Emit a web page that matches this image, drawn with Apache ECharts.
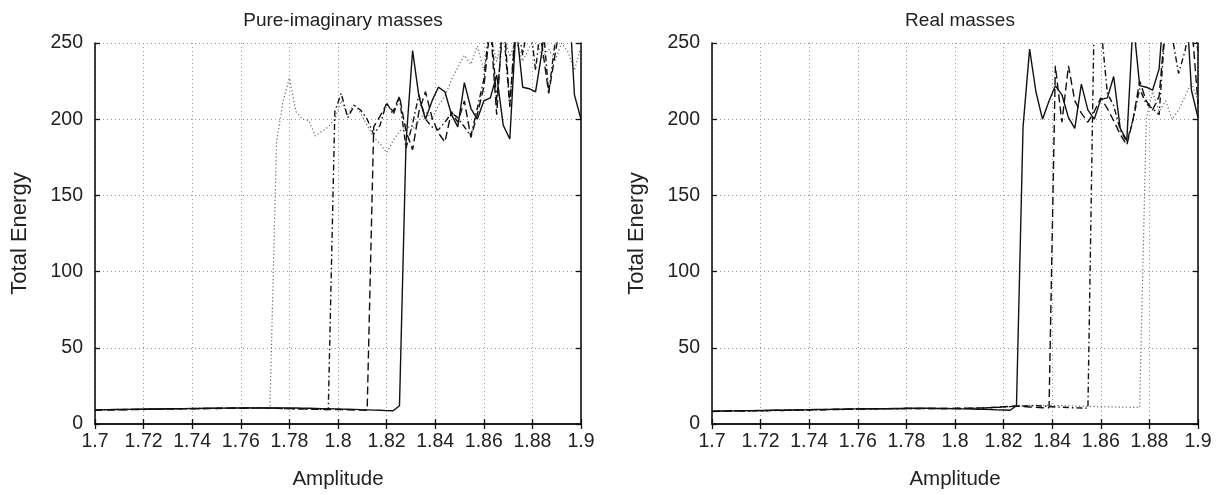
<!DOCTYPE html>
<html>
<head>
<meta charset="utf-8">
<script src="https://cdn.jsdelivr.net/npm/echarts@6/dist/echarts.min.js"></script>
<style>
html,body{margin:0;padding:0;background:#fff;}
#c{width:1232px;height:495px;}
</style>
</head>
<body>
<div id="c"></div>
<script>
// Amplitude samples (76 points, 1.70 .. 1.90)
var amplitude = [1.7000,1.7027,1.7053,1.7080,1.7107,1.7133,1.7160,1.7187,1.7213,1.7240,
1.7267,1.7293,1.7320,1.7347,1.7373,1.7400,1.7427,1.7453,1.7480,1.7507,
1.7533,1.7560,1.7587,1.7613,1.7640,1.7667,1.7693,1.7720,1.7747,1.7773,
1.7800,1.7827,1.7853,1.7880,1.7907,1.7933,1.7960,1.7987,1.8013,1.8040,
1.8067,1.8093,1.8120,1.8147,1.8173,1.8200,1.8227,1.8253,1.8280,1.8307,
1.8333,1.8360,1.8387,1.8413,1.8440,1.8467,1.8493,1.8520,1.8547,1.8573,
1.8600,1.8627,1.8653,1.8680,1.8707,1.8733,1.8760,1.8787,1.8813,1.8840,
1.8867,1.8893,1.8920,1.8947,1.8973,1.9000];

// Pure-imaginary masses
var imagSolid = [9.3,9.4,9.4,9.5,9.5,9.6,9.7,9.7,9.8,9.8,
9.9,10.0,10.0,10.1,10.1,10.2,10.2,10.3,10.3,10.4,
10.4,10.5,10.5,10.5,10.6,10.6,10.6,10.6,10.6,10.6,
10.5,10.5,10.4,10.3,10.2,10.1,10.0,9.9,9.8,9.7,
9.6,9.4,9.3,9.1,9.0,8.8,8.7,12,185,245,
215,200,212,221,218,203,195,224,207,200,
212,214,229,196,187,262,221,220,218,245,
290,290,290,290,216,200];
var imagDashDot = [9.2,9.3,9.3,9.4,9.5,9.5,9.6,9.6,9.7,9.8,
9.8,9.9,9.9,10.0,10.1,10.1,10.2,10.2,10.3,10.3,
10.4,10.4,10.4,10.5,10.5,10.5,10.4,10.4,10.3,10.2,
10.1,10.0,9.9,9.8,9.7,9.6,9.5,205,217,201,
209,206,200,190,196,211,203,214,181,197,
216,200,195,193,198,204,201,195,189,207,
226,268,212,262,208,270,242,268,232,270,
217,250,270,255,268,258];
var imagDashed = [9.1,9.2,9.2,9.3,9.3,9.4,9.5,9.5,9.6,9.7,
9.7,9.8,9.8,9.9,10.0,10.0,10.1,10.1,10.2,10.2,
10.3,10.3,10.3,10.4,10.4,10.4,10.4,10.3,10.3,10.2,
10.1,10.0,9.9,9.8,9.7,9.6,9.5,9.4,9.4,9.3,
9.2,9.1,9.0,195,202,210,205,215,192,180,
205,218,201,191,185,205,198,212,188,203,
221,262,203,272,209,265,270,262,265,248,
217,242,268,260,272,262];
var imagDotted = [9.4,9.4,9.5,9.5,9.6,9.6,9.7,9.8,9.8,9.9,
9.9,10.0,10.1,10.1,10.2,10.2,10.3,10.3,10.4,10.4,
10.5,10.5,10.6,10.6,10.6,10.7,10.7,10.8,185,211,
227,205,200,199,189,192,195,200,212,203,
210,204,196,188,184,178,186,192,196,193,
199,205,200,209,215,226,234,242,236,248,
232,255,238,257,241,252,238,247,253,240,
246,238,250,244,232,248];

// Real masses
var realSolid = [8.4,8.5,8.5,8.6,8.7,8.7,8.8,8.9,8.9,9.0,
9.1,9.1,9.2,9.3,9.3,9.4,9.5,9.5,9.6,9.7,
9.7,9.8,9.9,9.9,10.0,10.0,10.1,10.1,10.2,10.2,
10.3,10.3,10.3,10.3,10.3,10.2,10.2,10.1,10.0,9.9,
9.8,9.7,9.6,9.5,9.3,9.2,9.0,12,195,246,
218,200,212,222,216,201,194,223,206,200,
213,214,228,194,186,265,222,221,219,233,
290,290,290,290,219,201];
var realDashed = [8.3,8.4,8.4,8.5,8.6,8.6,8.7,8.8,8.8,8.9,
9.0,9.0,9.1,9.2,9.2,9.3,9.4,9.4,9.5,9.6,
9.6,9.7,9.8,9.8,9.9,9.9,10.0,10.0,10.1,10.1,
10.2,10.2,10.2,10.2,10.2,10.2,10.2,10.2,10.3,10.3,
10.4,10.5,10.6,10.8,11.0,11.3,11.6,11.8,11.5,11.2,
10.9,10.7,10.6,235,198,235,212,204,198,205,
214,207,199,190,183,200,225,212,206,215,
265,252,270,258,265,210];
var realDashDot = [8.2,8.3,8.3,8.4,8.5,8.5,8.6,8.7,8.7,8.8,
8.9,8.9,9.0,9.1,9.1,9.2,9.3,9.3,9.4,9.5,
9.5,9.6,9.7,9.7,9.8,9.8,9.9,9.9,10.0,10.0,
10.1,10.1,10.1,10.1,10.1,10.1,10.1,10.1,10.2,10.2,
10.3,10.4,10.5,10.7,10.9,11.1,11.4,11.6,11.8,11.9,
12.0,11.8,11.5,11.2,11.0,10.8,10.6,10.5,10.4,272,
262,217,209,193,185,200,220,210,207,203,
265,255,230,245,268,245];
var realDotted = [8.3,8.4,8.4,8.5,8.6,8.6,8.7,8.8,8.8,8.9,
9.0,9.0,9.1,9.2,9.2,9.3,9.4,9.4,9.5,9.6,
9.6,9.7,9.8,9.8,9.9,9.9,10.0,10.0,10.1,10.1,
10.2,10.2,10.2,10.2,10.2,10.2,10.2,10.2,10.3,10.3,
10.4,10.5,10.6,10.8,11.0,11.2,11.5,11.8,12.0,12.2,
12.3,12.3,12.2,12.1,12.0,11.9,11.8,11.7,11.6,11.5,
11.4,11.3,11.2,11.1,11.0,10.9,10.8,200,218,205,
212,200,206,215,224,212];

var panelTitles = ['Pure-imaginary masses', 'Real masses'];
var xName = 'Amplitude';
var yName = 'Total Energy';

var FONT = 'Liberation Sans, Arial, sans-serif';
var chart = echarts.init(document.getElementById('c'), null, {renderer: 'canvas'});

function pairs(arr) { return amplitude.map(function (x, i) { return [x, arr[i]]; }); }

var grids = [
  {left: 95, top: 43, width: 486, height: 382},
  {left: 712, top: 43, width: 486, height: 382}
];
var axisLineStyle = {color: '#111', width: 1.6};
var xAxes = [], yAxes = [];
for (var g = 0; g < 2; g++) {
  xAxes.push({
    type: 'value', gridIndex: g, min: 1.7, max: 1.9, interval: 0.02,
    name: xName, nameLocation: 'middle', nameGap: 45,
    nameTextStyle: {fontFamily: FONT, fontSize: 20.5, color: '#222'},
    axisLine: {show: true, lineStyle: axisLineStyle},
    axisTick: {show: true, inside: true, length: 5, lineStyle: {color: '#111', width: 1.3}},
    axisLabel: {fontFamily: FONT, fontSize: 19.5, color: '#222', margin: 8, showMinLabel: true, showMaxLabel: true,
      formatter: function (v) { return String(parseFloat(v.toFixed(2))); }},
    splitLine: {show: true, lineStyle: {color: '#999', width: 1, type: [1, 3]}}
  });
  xAxes.push({
    type: 'value', gridIndex: g, position: 'top', min: 1.7, max: 1.9, interval: 0.02,
    axisLine: {show: true, lineStyle: axisLineStyle},
    axisTick: {show: true, inside: true, length: 5, lineStyle: {color: '#111', width: 1.3}},
    axisLabel: {show: false}, splitLine: {show: false}
  });
  yAxes.push({
    type: 'value', gridIndex: g, min: 0, max: 250, interval: 50,
    name: yName, nameLocation: 'middle', nameGap: 64, nameRotate: 90,
    nameTextStyle: {fontFamily: FONT, fontSize: 22, color: '#222'},
    axisLine: {show: true, lineStyle: axisLineStyle},
    axisTick: {show: true, inside: true, length: 5, lineStyle: {color: '#111', width: 1.3}},
    axisLabel: {fontFamily: FONT, fontSize: 19.5, color: '#222', margin: 12},
    splitLine: {show: true, lineStyle: {color: '#999', width: 1, type: [1, 3]}}
  });
  yAxes.push({
    type: 'value', gridIndex: g, position: 'right', min: 0, max: 250, interval: 50,
    axisLine: {show: true, lineStyle: axisLineStyle},
    axisTick: {show: true, inside: true, length: 5, lineStyle: {color: '#111', width: 1.3}},
    axisLabel: {show: false}, splitLine: {show: false}
  });
}

function mk(arr, g, dash, color, width) {
  return {
    type: 'line', xAxisIndex: g * 2, yAxisIndex: g * 2, data: pairs(arr),
    symbol: 'none', showSymbol: false, clip: true, animation: false, silent: true,
    lineStyle: {color: color, width: width, type: dash}
  };
}

var series = [
  mk(imagDotted, 0, [1.2, 2.4], '#666', 1.2),
  mk(imagDashDot, 0, [6, 3, 1.5, 3], '#111', 1.4),
  mk(imagDashed, 0, [8, 4], '#111', 1.4),
  mk(imagSolid, 0, 'solid', '#111', 1.4),
  mk(realDotted, 1, [1.2, 2.4], '#666', 1.2),
  mk(realDashDot, 1, [6, 3, 1.5, 3], '#111', 1.4),
  mk(realDashed, 1, [8, 4], '#111', 1.4),
  mk(realSolid, 1, 'solid', '#111', 1.4)
];

chart.setOption({
  animation: false,
  backgroundColor: '#fff',
  title: [
    {text: panelTitles[0], left: 338, top: 6, textAlign: 'center',
     textStyle: {fontFamily: FONT, fontSize: 19, fontWeight: 'normal', color: '#222'}},
    {text: panelTitles[1], left: 955, top: 6, textAlign: 'center',
     textStyle: {fontFamily: FONT, fontSize: 19, fontWeight: 'normal', color: '#222'}}
  ],
  grid: grids,
  xAxis: xAxes,
  yAxis: yAxes,
  series: series
});
</script>
</body>
</html>
